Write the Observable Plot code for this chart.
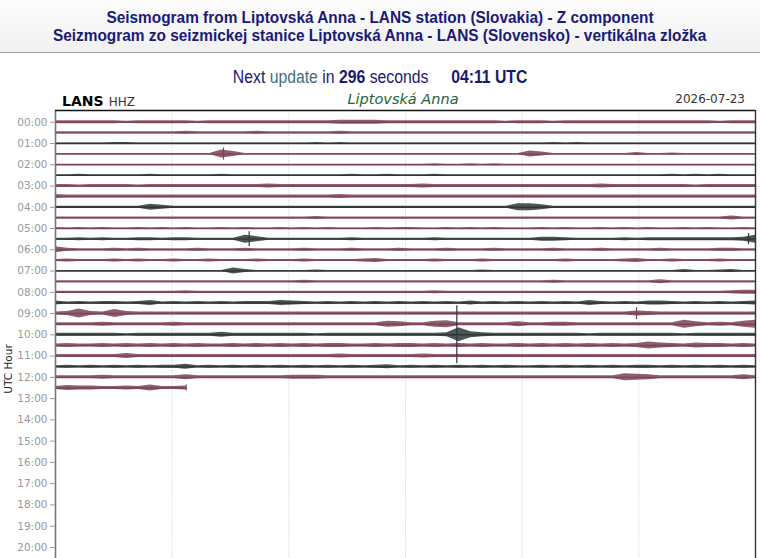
<!DOCTYPE html>
<html><head><meta charset="utf-8">
<script src="https://cdn.jsdelivr.net/npm/d3@7"></script>
<script src="https://cdn.jsdelivr.net/npm/@observablehq/plot@0.6"></script>
<style>
html,body{margin:0;padding:0;background:#fff;width:760px;height:558px;overflow:hidden;position:relative;}
#title{position:absolute;left:0;top:0;width:760px;height:53px;background:linear-gradient(#fdfdfd,#f1f1f1);border-bottom:1px solid #a0a0a0;box-sizing:border-box;text-align:center;font-family:"Liberation Sans",Arial,sans-serif;font-weight:bold;font-size:17px;color:#1a1a78;line-height:18.5px;padding-top:8.5px;}
.sq{display:inline-block;transform:scaleX(0.906);white-space:nowrap;}
.sq2{display:inline-block;transform:scaleX(0.876);white-space:nowrap;}
#update{position:absolute;left:0;top:67px;width:760px;text-align:center;font-family:"Liberation Sans",Arial,sans-serif;font-size:18px;color:#1a1a70;}
#update .u{color:#3f6f80;}
#update b{font-weight:bold;}
#update .t{margin-left:26px;font-weight:bold;}
.hdr{position:absolute;top:91px;font-family:"DejaVu Sans",sans-serif;white-space:nowrap;}
#ylab{position:absolute;left:-22px;top:363px;width:60px;text-align:center;font-family:"DejaVu Sans",sans-serif;font-size:10.5px;color:#222;transform:rotate(-90deg);}
#chart{position:absolute;left:0;top:100px;}
</style></head>
<body>
<div id="title"><span class="sq">Seismogram from Liptovská Anna - LANS station (Slovakia) - Z component</span><br><span class="sq">Seizmogram zo seizmickej stanice Liptovská Anna - LANS (Slovensko) - vertikálna zložka</span></div>
<div id="update"><span class="sq2">Next <span class="u">update</span> in <b>296</b> seconds<span class="t">04:11 UTC</span></span></div>
<div class="hdr" style="left:62px;"><span style="font-weight:bold;font-size:14px;color:#000;">LANS</span> <span style="font-size:12px;color:#333;">HHZ</span></div>
<div class="hdr" style="left:0;width:806px;text-align:center;font-style:italic;font-size:14.5px;color:#236438;top:91px;">Liptovská Anna</div>
<div class="hdr" style="right:15px;font-size:12px;color:#333;top:92px;">2026-07-23</div>
<div id="chart"></div>
<div id="ylab">UTC Hour</div>
<script>
// half-hour trace rows (start hour of each 30-minute line)
const rowStarts = [0,0.5,1,1.5,2,2.5,3,3.5,4,4.5,5,5.5,6,6.5,7,7.5,8,8.5,9,9.5,10,10.5,11,11.5,12,12.5];
// envelope amplitude per 30-second bin (0-9, a-z = 10+), read from the record
const envelopes = [
  "3333332333"+"3323333333"+"3333444433"+"3333333323"+"3323333333"+"3333332333",
  "2222222222"+"2322222322"+"2222322222"+"2222222222"+"2222222222"+"2222222222",
  "1111122111"+"1111111111"+"1121211111"+"1111111111"+"1121211111"+"1111111111",
  "1111111111"+"1111851111"+"1111111111"+"1111111111"+"6411111113"+"1121111111",
  "1111111111"+"1111111111"+"1111111111"+"1121121211"+"1111111111"+"1111111111",
  "1121111121"+"1111211111"+"1111121121"+"1121111111"+"1111111111"+"1121212111",
  "3323333233"+"3333333343"+"3333333333"+"3433333333"+"3333334333"+"3333233333",
  "4333333333"+"3333333333"+"3333433333"+"3333333333"+"3333333333"+"3333333333",
  "2222222264"+"2222222222"+"2222222222"+"2222222227"+"7522222222"+"2222222222",
  "2222222222"+"2222222222"+"2232222222"+"2222222222"+"2222222222"+"2222222422",
  "2121211212"+"1211212112"+"1212111212"+"2112121211"+"1212112121"+"2112121121",
  "2232322332"+"3322228522"+"2222232222"+"2232222222"+"2443222232"+"3333333348",
  "6322232322"+"2232223222"+"2322232223"+"2223222322"+"2232223222"+"2322223322",
  "2322232322"+"3223222322"+"2322223422"+"2232223222"+"2223222234"+"2232223222",
  "1111111111"+"1111163111"+"1121111111"+"1111112111"+"1111111111"+"1113112311",
  "2222222222"+"2222222222"+"2322222222"+"2222222222"+"2232222222"+"2422222222",
  "2222222222"+"2322222222"+"2222222222"+"2232222222"+"2222222222"+"2222222344",
  "4232332352"+"3232323335"+"4323232323"+"2323242323"+"2323253232"+"4432323234",
  "3494384333"+"3333333333"+"3333333333"+"3333333333"+"3333333335"+"4333333333",
  "3333433333"+"4333333333"+"3333333365"+"3367333335"+"3344333333"+"3338534368",
  "3333332333"+"3333533333"+"3323333333"+"3334e64333"+"3333323333"+"3332333333",
  "3433434343"+"4343343434"+"3434433434"+"4343434334"+"3434343434"+"7543544343",
  "3333335333"+"3333333333"+"3333433333"+"3433333333"+"3333333333"+"3333333333",
  "2323232323"+"3523232323"+"2323232342"+"3232323232"+"2323232323"+"3232323232",
  "3333433333"+"3533333333"+"4443333333"+"3333333333"+"3333333376"+"5333333353",
  "354433436334"
];
// sharp spikes: [row index, minute, amplitude]
const spikes = [[3,7.2,12],[11,8.3,15],[11,29.7,11],[18,24.9,12],[20,17.2,58],[25,5.6,6]];
const traceColors = ["#7b4257","#7b4257","#2b3739"];
const hourTicks = [0,1,2,3,4,5,6,7,8,9,10,11,12,13,14,15,16,17,18,19,20];
const hourLabels = ["00:00","01:00","02:00","03:00","04:00","05:00","06:00","07:00","08:00","09:00","10:00","11:00","12:00","13:00","14:00","15:00","16:00","17:00","18:00","19:00","20:00"];
const gridMinutes = [5,10,15,20,25];
const gain = 1/42.5; // hours per amplitude unit

const pts = [];
envelopes.forEach((s, r) => {
  const base = rowStarts[r];
  const color = traceColors[r % 3];
  for (let i = 0; i < s.length; i++) {
    const a = parseInt(s[i], 36);
    pts.push({row: r, m: i * 30 / 59, base, lo: base - a * gain, hi: base + a * gain, color});
  }
});
const spk = spikes.map(([r, m, a]) => ({m, y1: rowStarts[r] - a * gain, y2: rowStarts[r] + a * gain, color: traceColors[r % 3]}));

const chart = Plot.plot({
  width: 760, height: 540,
  marginLeft: 55, marginRight: 5, marginTop: 10, marginBottom: 8,
  style: {fontFamily: "DejaVu Sans, sans-serif", background: "transparent"},
  x: {domain: [0, 30], axis: null},
  y: {domain: [-0.55, 24], reverse: true, axis: null},
  color: {type: "identity"},
  marks: [
    Plot.ruleX(gridMinutes, {stroke: "#cfcfcf", strokeDasharray: "1,1.5", strokeWidth: 1}),
    Plot.areaY(pts, {x: "m", y1: "lo", y2: "hi", z: "row", fill: "color", fillOpacity: 0.85}),
    Plot.lineY(pts, {x: "m", y: "base", z: "row", stroke: "color", strokeWidth: 1.4}),
    Plot.ruleX(spk, {x: "m", y1: "y1", y2: "y2", stroke: "color", strokeWidth: 1.2}),
    Plot.ruleX([0], {stroke: "#777", strokeWidth: 1.6}),
    Plot.ruleX([30], {stroke: "#333", strokeWidth: 1.4}),
    Plot.ruleY([-0.55], {stroke: "#111", strokeWidth: 1.6}),
    Plot.axisY({ticks: hourTicks, tickFormat: d => hourLabels[hourTicks.indexOf(d)], tickSize: 5, tickPadding: 3, fontSize: 10.5, color: "#999", label: null})
  ]
});
document.getElementById("chart").appendChild(chart);
</script>
</body></html>
